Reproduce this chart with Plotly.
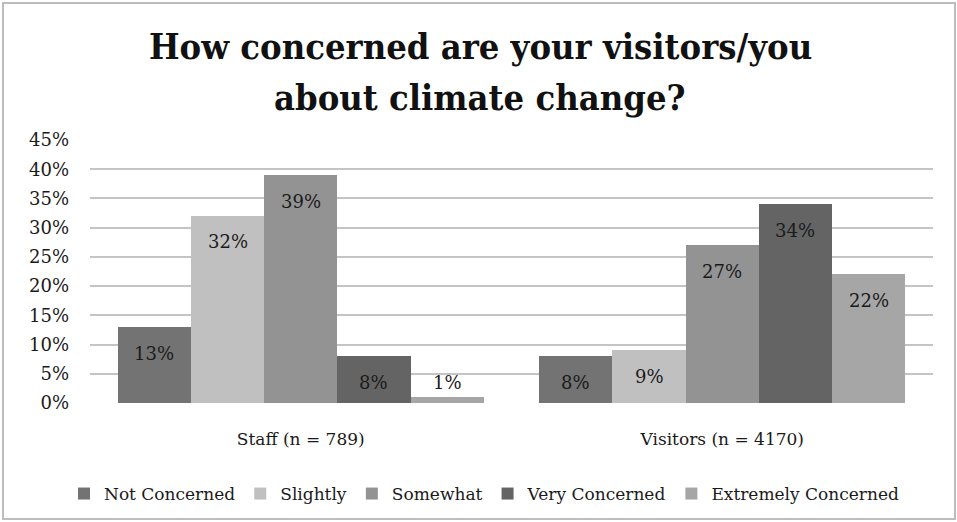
import plotly.graph_objects as go

# Survey groups and response levels
groups = ["Staff (n = 789)", "Visitors (n = 4170)"]
levels = ["Not Concerned", "Slightly", "Somewhat", "Very Concerned", "Extremely Concerned"]

# Percent of respondents per level, [staff, visitors]
not_concerned = [13, 8]
slightly = [32, 9]
somewhat = [39, 27]
very_concerned = [8, 34]
extremely_concerned = [1, 22]

series = [not_concerned, slightly, somewhat, very_concerned, extremely_concerned]
colors = ["#737373", "#c0c0c0", "#939393", "#646464", "#a6a6a6"]

y_ticks = [0, 5, 10, 15, 20, 25, 30, 35, 40, 45]

FONT = "DejaVu Serif"
TEXT = "#1a1a1a"

PLOT_L, PLOT_R, PLOT_T, PLOT_B = 90, 24, 140, 119
W, H = 957, 522
pw = W - PLOT_L - PLOT_R
ph = H - PLOT_T - PLOT_B

bar_w = 0.1737
fig = go.Figure()
annotations = []
for i, (name, vals, col) in enumerate(zip(levels, series, colors)):
    off = (i - 2) * bar_w
    xs = [g + off for g in range(len(groups))]
    ys = [v / 100 for v in vals]
    fig.add_trace(go.Bar(
        name=name, x=xs, y=ys, width=bar_w,
        marker=dict(color=col, line=dict(width=0)),
        hoverinfo="skip",
    ))
    for x, v in zip(xs, vals):
        annotations.append(dict(
            x=x, y=v / 100, xref="x", yref="y",
            text=f"{v}%", showarrow=False,
            yshift=15 if v < 3 else -26,
            font=dict(family=FONT, size=18, color=TEXT),
        ))

def px_x(p):
    return (p - PLOT_L) / pw

def px_y(p):
    return (H - PLOT_B - p) / ph

title_font = dict(family="DejaVu Serif Condensed", size=36, color="#111", weight="bold")
annotations += [
    dict(x=px_x(480), y=px_y(46), xref="paper", yref="paper",
         xanchor="center", yanchor="middle",
         text="How concerned are your visitors/you", showarrow=False,
         font=title_font),
    dict(x=px_x(480), y=px_y(97), xref="paper", yref="paper",
         xanchor="center", yanchor="middle",
         text="about climate change?", showarrow=False,
         font=title_font),
]

fig.update_layout(
    width=W, height=H,
    margin=dict(l=PLOT_L, r=PLOT_R, t=PLOT_T, b=PLOT_B, autoexpand=False),
    paper_bgcolor="white", plot_bgcolor="white",
    barmode="overlay",
    bargap=0,
    showlegend=True,
    legend=dict(
        orientation="h", x=px_x(484), y=px_y(494), xanchor="center", yanchor="middle",
        font=dict(family=FONT, size=17, color=TEXT),
        itemwidth=30, traceorder="normal",
    ),
    annotations=annotations,
    shapes=[dict(
        type="rect", xref="paper", yref="paper",
        x0=px_x(3), x1=px_x(955), y0=px_y(519), y1=px_y(3),
        line=dict(color="#bdbdbd", width=2), layer="below",
    )],
)

fig.update_xaxes(
    range=[-0.5, 1.5], tickvals=list(range(len(groups))), ticktext=groups,
    showgrid=False, zeroline=False, showline=False, ticks="",
    ticklabelstandoff=24,
    tickfont=dict(family=FONT, size=17, color=TEXT),
)
fig.update_yaxes(
    range=[0, 0.45], tickvals=[t / 100 for t in y_ticks],
    ticktext=[f"{t}%" for t in y_ticks],
    showgrid=True, gridcolor="#c4c4c4", gridwidth=1.5,
    zeroline=False, showline=False, ticks="",
    ticklabelstandoff=20,
    tickfont=dict(family=FONT, size=18, color=TEXT),
)

fig.write_html("out.html")
